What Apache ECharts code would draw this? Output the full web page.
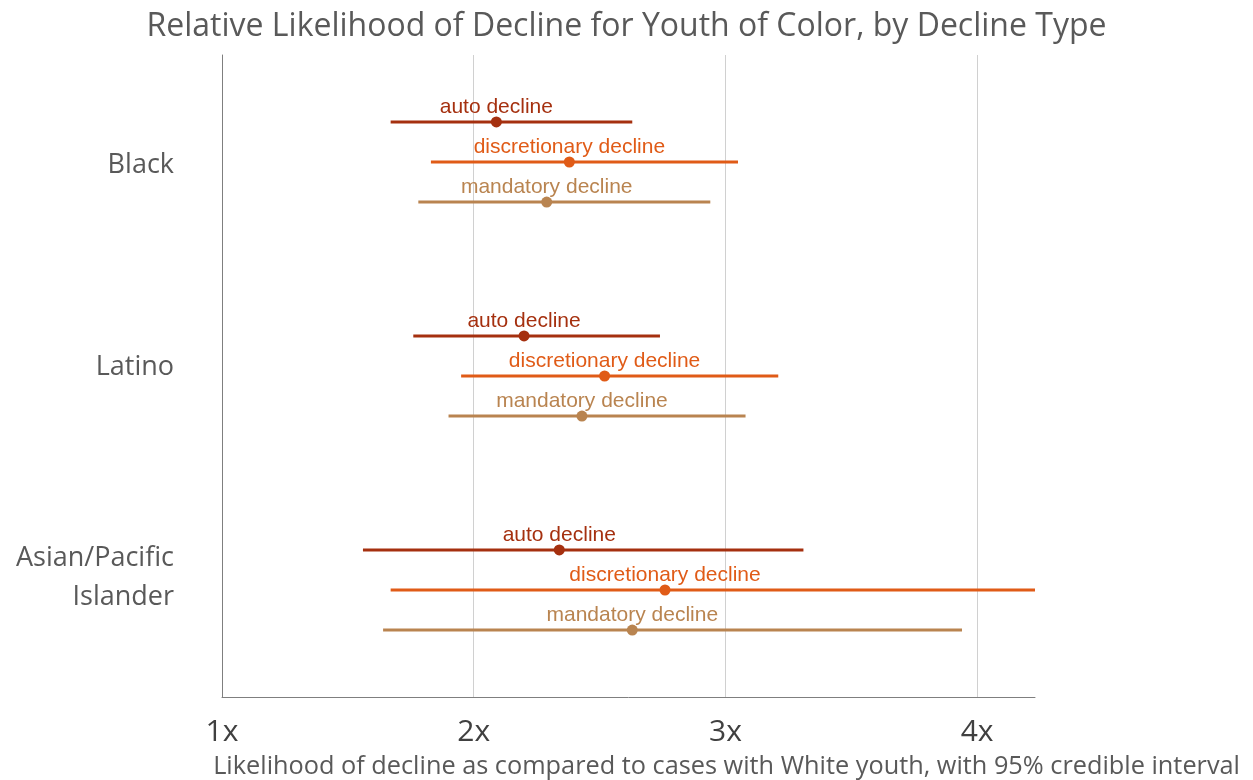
<!DOCTYPE html>
<html>
<head>
<meta charset="utf-8">
<script src="https://cdn.jsdelivr.net/npm/echarts@6/dist/echarts.min.js"></script>
<style>
  html, body { margin: 0; padding: 0; background: #fff; }
  #main { width: 1253px; height: 780px; }
</style>
</head>
<body>
<div id="main"></div>
<script>
// groups down the y axis, positions 0.5 / 1.5 / 2.5
var groups = ['Black', 'Latino', 'Asian/Pacific\nIslander'];
var declineTypes = ['auto decline', 'discretionary decline', 'mandatory decline'];

// estimate, lower and upper bound per type, one value per group
var autoEst = [2.09, 2.20, 2.34];
var autoLow = [1.67, 1.76, 1.56];
var autoHigh = [2.63, 2.74, 3.31];

var discEst = [2.38, 2.52, 2.76];
var discLow = [1.83, 1.95, 1.67];
var discHigh = [3.05, 3.21, 4.40];

var mandEst = [2.29, 2.43, 2.63];
var mandLow = [1.78, 1.90, 1.64];
var mandHigh = [2.94, 3.08, 3.94];

var xTicks = [1, 2, 3, 4];

var colors = ['#A5300F', '#E05B17', '#B98450'];
var offsets = [-0.187, 0, 0.187];

function buildSeries(idx, est, low, high) {
  var rows = [];
  for (var i = 0; i < groups.length; i++) {
    rows.push([est[i], i + 0.5 + offsets[idx], low[i], high[i]]);
  }
  return {
    type: 'custom',
    name: declineTypes[idx],
    clip: true,
    data: rows,
    encode: { x: [0, 2, 3], y: 1 },
    renderItem: function (params, api) {
      var y = api.value(1);
      var p = api.coord([api.value(0), y]);
      var a = api.coord([api.value(2), y]);
      var b = api.coord([api.value(3), y]);
      var cs = params.coordSys;
      var right = Math.min(b[0], cs.x + cs.width);
      return {
        type: 'group',
        children: [
          { type: 'line', shape: { x1: a[0], y1: a[1], x2: right, y2: b[1] },
            style: { stroke: colors[idx], lineWidth: 3 } },
          { type: 'circle', shape: { cx: p[0], cy: p[1], r: 5.5 },
            style: { fill: colors[idx] } },
          { type: 'text', x: p[0], y: p[1] - 15,
            style: { text: declineTypes[idx], fill: colors[idx], font: '21px "Liberation Sans", Arial, sans-serif',
                     align: 'center', verticalAlign: 'middle' } }
        ]
      };
    }
  };
}

var chart = echarts.init(document.getElementById('main'));
chart.setOption({
  animation: false,
  title: [{
    text: 'Relative Likelihood of Decline for Youth of Color, by Decline Type',
    left: 'center',
    top: 6,
    textStyle: { fontFamily: '"Open Sans", sans-serif', fontWeight: 'normal', fontSize: 32, color: '#595959' }
  }, {
    text: 'Likelihood of decline as compared to cases with White youth, with 95% credible interval',
    right: 8,
    top: 749,
    textStyle: { fontFamily: '"Open Sans", sans-serif', fontWeight: 'normal', fontSize: 25.3, color: '#595959' }
  }],
  grid: { left: 222, right: 218, top: 55, bottom: 83 },
  xAxis: {
    type: 'value',
    position: 'bottom',
    min: 1,
    max: 4.23,
    interval: 1,
    axisLine: { show: true, onZero: false, lineStyle: { color: '#7f7f7f', width: 1 } },
    axisTick: { show: false },
    splitLine: { show: true, showMaxLine: false, lineStyle: { color: '#d0d0d0', width: 1 } },
    axisLabel: {
      margin: 20,
      fontSize: 30,
      fontFamily: '"Open Sans", sans-serif',
      color: '#404040',
      showMaxLabel: false,
      formatter: function (v) { return xTicks.indexOf(v) >= 0 ? v + 'x' : ''; }
    }
  },
  yAxis: {
    type: 'value',
    min: 0,
    max: 3,
    interval: 0.5,
    inverse: true,
    axisLine: { show: true, lineStyle: { color: '#7f7f7f', width: 1 } },
    axisTick: { show: false },
    splitLine: { show: false },
    axisLabel: {
      margin: 48,
      fontSize: 27,
      lineHeight: 39,
      fontFamily: '"Open Sans", sans-serif',
      color: '#595959',
      align: 'right',
      rich: {
        s1: { fontSize: 2, lineHeight: 6 },
        s2: { fontSize: 2, lineHeight: 18 },
        s3: { fontSize: 2, lineHeight: 24 }
      },
      formatter: function (v) {
        var i = Math.round(v - 0.5);
        if (Math.abs(v - i - 0.5) > 0.01 || !groups[i]) return '';
        // nudge each label to where the reference sets it
        if (i === 0) return '{s1| }\n' + groups[i];
        if (i === 1) return groups[i] + '\n{s2| }';
        return groups[i] + '\n{s3| }';
      }
    }
  },
  series: [
    buildSeries(0, autoEst, autoLow, autoHigh),
    buildSeries(1, discEst, discLow, discHigh),
    buildSeries(2, mandEst, mandLow, mandHigh)
  ]
});
</script>
</body>
</html>
